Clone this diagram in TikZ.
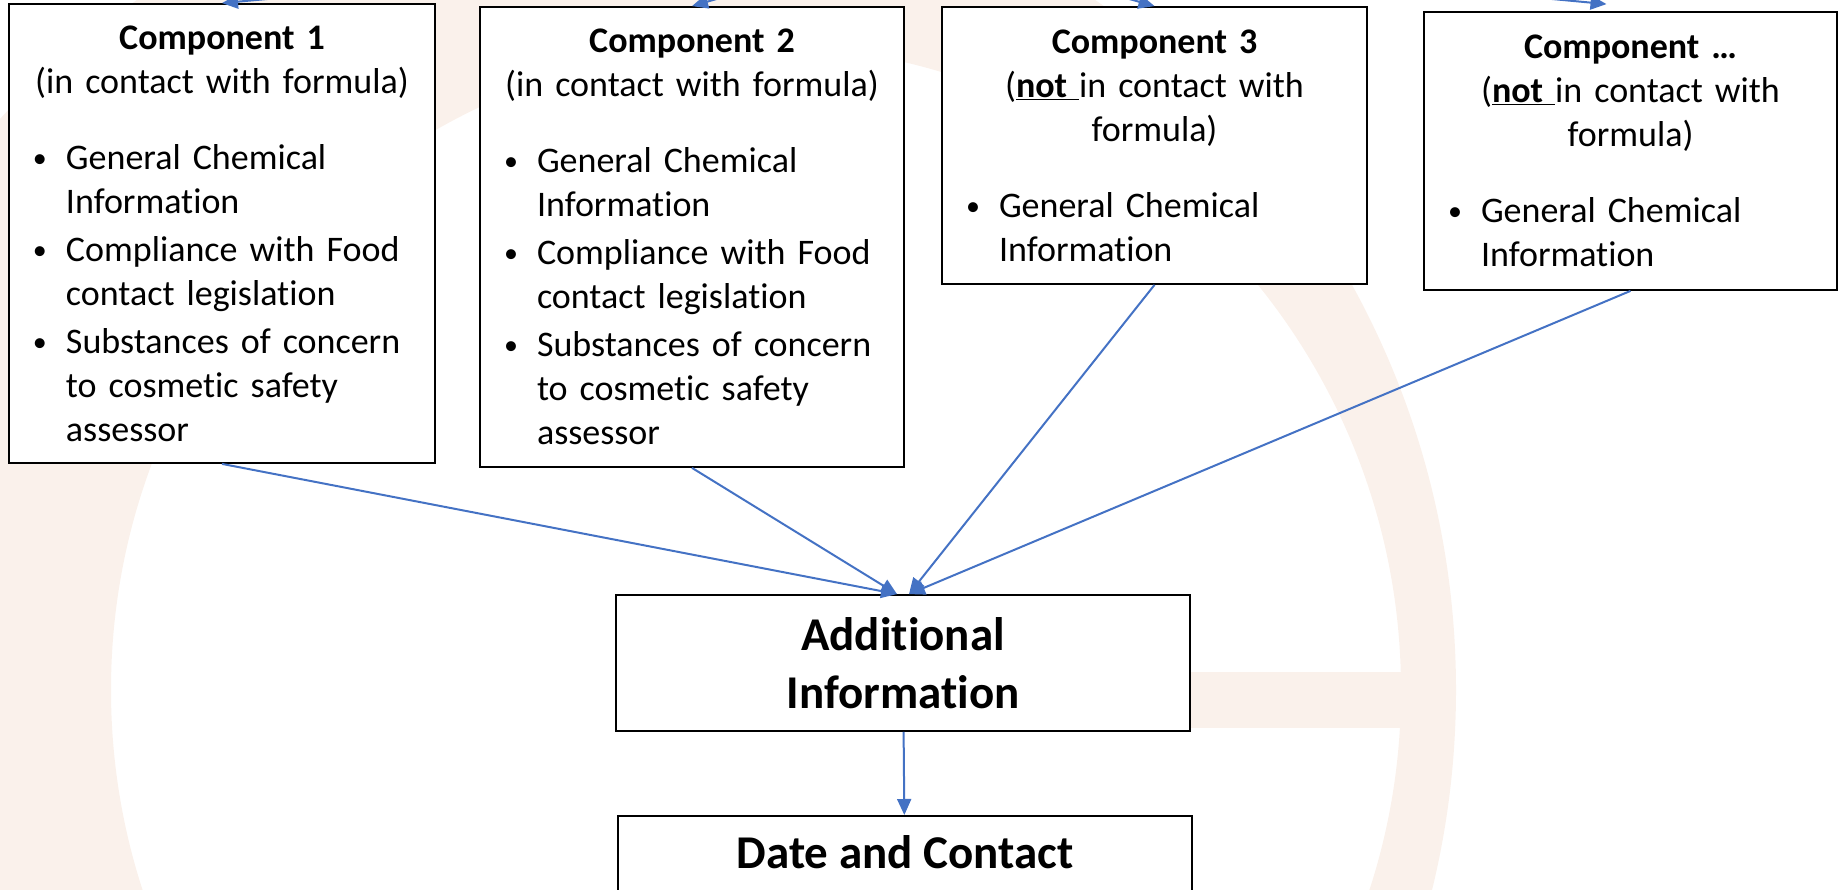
\documentclass[tikz,border=0pt]{standalone}
\usepackage{fontspec}
\setmainfont{Carlito}[Ligatures=NoCommon]
\usetikzlibrary{arrows.meta}
\definecolor{linkblue}{RGB}{68,114,196}
\definecolor{wmark}{RGB}{250,241,235}
\newcommand{\compsize}{\fontsize{36pt}{44pt}\selectfont}
\newcommand{\bigsize}{\fontsize{47pt}{57.5pt}\selectfont\bfseries}
\newcommand{\dotmark}{\raisebox{2pt}{\fontsize{28pt}{28pt}\selectfont\textbullet}}
\newcommand{\ctrline}[1]{\noindent\makebox[\hsize]{#1}\par}
\newcommand{\bline}[1]{\noindent\hspace*{24pt}\makebox[33pt][l]{\dotmark}\mbox{#1}\par}
\newcommand{\contline}[1]{\noindent\hspace*{57pt}\mbox{#1}\par}
\tikzset{
  compbox/.style={draw, line width=1.8pt, fill=white, inner sep=0pt, font=\compsize},
  mainbox/.style={draw, line width=1.8pt, fill=white, inner sep=0pt, align=center,
    minimum width=574pt, font=\bigsize},
  link/.style={draw=linkblue, line width=2pt, -{Triangle[length=16pt,width=14pt]}}
}
\begin{document}
\begin{tikzpicture}[x=1pt,y=-1pt]
\useasboundingbox (0,0) rectangle (1839,890);
\clip (0,0) rectangle (1839,890);
\fill[wmark, even odd rule] (616,690) circle[radius=840pt] (756,690) circle[radius=645pt];
\fill[wmark] (756,672) rectangle (1420,728);
\node[compbox, text width=426pt, minimum height=459pt] (comp1) at (222,233.5) {%
  \ctrline{\textbf{Component 1}}
  \ctrline{(in contact with formula)}
  \vspace{32pt}
  \bline{General Chemical}
  \contline{Information}
  \vspace{4pt}
  \bline{Compliance with Food}
  \contline{contact legislation}
  \vspace{4pt}
  \bline{Substances of concern}
  \contline{to cosmetic safety}
  \contline{assessor}};
\node[compbox, text width=424pt, minimum height=460pt] (comp2) at (692,237) {%
  \ctrline{\textbf{Component 2}}
  \ctrline{(in contact with formula)}
  \vspace{32pt}
  \bline{General Chemical}
  \contline{Information}
  \vspace{4pt}
  \bline{Compliance with Food}
  \contline{contact legislation}
  \vspace{4pt}
  \bline{Substances of concern}
  \contline{to cosmetic safety}
  \contline{assessor}};
\node[compbox, text width=425pt, minimum height=277pt] (comp3) at (1154.5,145.5) {%
  \ctrline{\textbf{Component 3}}
  \ctrline{(\underline{\textbf{not }}in contact with}
  \ctrline{formula)}
  \vspace{32pt}
  \bline{General Chemical}
  \contline{Information}};
\node[compbox, text width=413pt, minimum height=278pt] (comp4) at (1630.5,151) {%
  \ctrline{\textbf{Component …}}
  \ctrline{(\underline{\textbf{not }}in contact with}
  \ctrline{formula)}
  \vspace{32pt}
  \bline{General Chemical}
  \contline{Information}};
\node[mainbox, minimum height=136pt] (addinfo) at (903,663) {Additional\\Information};
\node[mainbox, anchor=north, text height=53pt, text depth=100pt] (datebox) at (905,815) {Date and Contact};
\coordinate (formula) at (920,-60);
\foreach \c in {comp1,comp2,comp3}
  \draw[link] (formula) -- (\c.north);
\draw[link] (formula) -- ([shift={(-24,-7)}]comp4.north);
\foreach \c in {comp1,comp2}
  \draw[link] (\c.south) -- ([xshift=-6pt]addinfo.north);
\foreach \c in {comp3,comp4}
  \draw[link] (\c.south) -- ([xshift=6pt]addinfo.north);
\draw[link] (addinfo) -- (datebox);
\end{tikzpicture}
\end{document}
